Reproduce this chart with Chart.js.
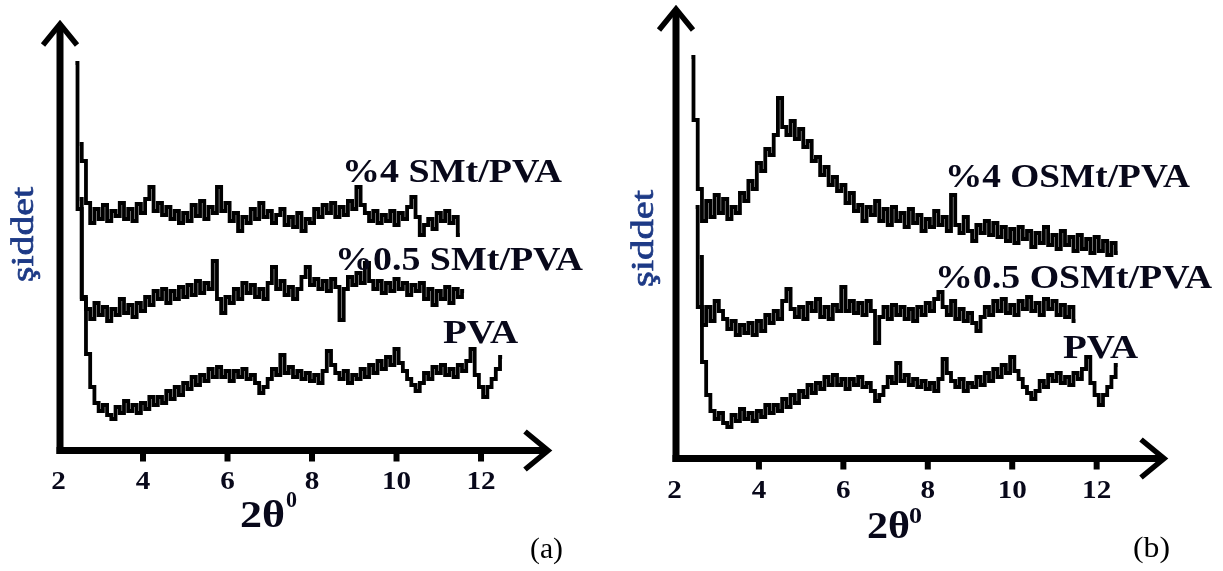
<!DOCTYPE html>
<html>
<head>
<meta charset="utf-8">
<script src="https://cdn.jsdelivr.net/npm/chart.js@4.4.1/dist/chart.umd.min.js"></script>
<style>
  html, body { margin: 0; padding: 0; background: #ffffff; }
  #wrap { position: relative; width: 1223px; height: 571px; overflow: hidden; background: #ffffff; }
  canvas { position: absolute; top: 0; }
  #panelA { left: 0; }
  #panelB { left: 611px; }
</style>
</head>
<body>
<div id="wrap">
  <canvas id="panelA" width="611" height="571"></canvas>
  <canvas id="panelB" width="612" height="571"></canvas>
</div>
<script>
// XRD patterns, intensity in arbitrary units, sampled every 0.1 degree of 2θ
const angleStep = 0.1;

// (a) SMt / PVA films
const smt4Start = 2.5;
const smt4 = [
  305, 288, 246, 226, 240, 230, 244, 228, 238, 233,
  246, 230, 240, 228, 245, 236, 250, 262, 238, 246,
  234, 242, 230, 238, 226, 236, 228, 244, 233, 248,
  230, 242, 236, 262, 238, 246, 228, 236, 218, 232,
  226, 240, 230, 246, 232, 238, 226, 234, 240, 224,
  232, 222, 236, 218, 230, 226, 240, 232, 244, 236,
  246, 232, 242, 234, 248, 240, 262, 244, 236, 228,
  238, 226, 234, 228, 238, 224, 236, 230, 242, 252,
  232, 214, 224, 230, 220, 236, 228, 238, 226, 232,
  214
];

const smt05Start = 2.4;
const smt05 = [
  386, 240, 152, 140, 130, 146, 134, 142, 128, 140,
  134, 150, 136, 144, 132, 146, 138, 152, 144, 158,
  150, 160, 146, 158, 150, 162, 152, 164, 154, 168,
  156, 166, 160, 188, 150, 136, 152, 146, 160, 150,
  166, 156, 164, 152, 160, 150, 166, 182, 160, 168,
  154, 162, 150, 160, 172, 182, 164, 170, 160, 168,
  158, 170, 162, 129, 160, 172, 164, 176, 166, 186,
  168, 160, 168, 156, 166, 158, 170, 160, 166, 154,
  164, 158, 166, 150, 160, 144, 158, 150, 162, 146,
  160, 152, 158
];

// neat PVA film, shown in both panels
const pvaStart = 2.5;
const pva = [
  250, 150, 95, 62, 46, 38, 44, 34, 30, 42,
  36, 48, 38, 44, 36, 46, 40, 52, 44, 52,
  46, 58, 50, 62, 54, 66, 60, 72, 64, 74,
  68, 80, 72, 82, 72, 78, 68, 78, 72, 80,
  70, 74, 66, 56, 62, 70, 80, 74, 94, 76,
  82, 72, 78, 70, 76, 68, 74, 66, 78, 98,
  84, 76, 70, 78, 66, 74, 70, 80, 72, 84,
  76, 88, 80, 92, 84, 100, 86, 78, 70, 64,
  58, 66, 76, 70, 82, 76, 84, 74, 80, 72,
  84, 78, 88, 100, 74, 62, 52, 62, 70, 80,
  92
];

// (b) OSMt / PVA films
const osmt4Start = 2.4;
const osmt4 = [
  400, 337, 268, 236, 256, 240, 262, 244, 258, 238,
  250, 244, 264, 256, 276, 268, 294, 286, 308, 302,
  322, 359, 330, 322, 336, 318, 328, 310, 316, 296,
  300, 282, 290, 272, 280, 266, 272, 254, 264, 246,
  252, 236, 250, 242, 256, 236, 248, 232, 250, 236,
  244, 230, 248, 234, 242, 226, 238, 230, 246, 232,
  240, 226, 262, 232, 224, 240, 226, 216, 232, 224,
  236, 222, 234, 220, 230, 216, 228, 214, 230, 218,
  226, 210, 224, 214, 230, 212, 222, 208, 226, 212,
  220, 206, 222, 208, 218, 204, 220, 206, 216, 202,
  214, 204
];

const osmt05Start = 2.6;
const osmt05 = [
  200, 132, 150, 136, 156, 146, 138, 128, 136, 122,
  132, 124, 134, 122, 136, 126, 142, 134, 146, 138,
  156, 168, 148, 140, 150, 138, 154, 146, 158, 140,
  150, 138, 152, 146, 170, 146, 156, 144, 154, 142,
  156, 146, 114, 140, 150, 138, 152, 142, 150, 138,
  148, 136, 150, 142, 154, 146, 158, 165, 150, 142,
  156, 138, 148, 136, 144, 134, 126, 140, 150, 142,
  156, 146, 158, 144, 152, 142, 156, 148, 160, 146,
  154, 142, 158, 148, 156, 142, 152, 140, 150, 136
];

const tickValues = [2, 4, 6, 8, 10, 12];
const seriesNamesA = ['%4 SMt/PVA', '%0.5 SMt/PVA', 'PVA'];
const seriesNamesB = ['%4 OSMt/PVA', '%0.5 OSMt/PVA', 'PVA'];
const axisTitleY = 'şiddet';
const panelTags = ['(a)', '(b)'];

function toPoints(start, values) {
  return values.map((v, i) => ({ x: Math.round((start + i * angleStep) * 100) / 100, y: v }));
}

const INK = '#08081a';
const NAVY = '#1d3a86';
const SERIF = '"Liberation Serif", "Times New Roman", serif';

function fitText(ctx, str, x, baseline, font, color, targetW, align, sxFixed) {
  ctx.save();
  ctx.font = font;
  ctx.fillStyle = color;
  ctx.textAlign = align || 'left';
  ctx.textBaseline = 'alphabetic';
  const w = ctx.measureText(str).width;
  const sx = targetW ? targetW / w : (sxFixed || 1);
  ctx.translate(x, baseline);
  ctx.scale(sx, 1);
  ctx.fillText(str, 0, 0);
  ctx.restore();
}

function fitTextUp(ctx, str, xBase, yStart, font, color, targetLen) {
  ctx.save();
  ctx.font = font;
  ctx.fillStyle = color;
  ctx.strokeStyle = color;
  ctx.lineWidth = 0.7;
  ctx.textAlign = 'left';
  ctx.textBaseline = 'alphabetic';
  const w = ctx.measureText(str).width;
  ctx.translate(xBase, yStart);
  ctx.rotate(-Math.PI / 2);
  ctx.scale(targetLen / w, 1);
  ctx.fillText(str, 0, 0);
  ctx.strokeText(str, 0, 0);
  ctx.restore();
}

// Axes with arrow heads, tick blocks, tick numbers and all annotations
const decorPlugin = {
  id: 'decor',
  afterDraw(chart, args, opts) {
    const ctx = chart.ctx;
    const area = chart.chartArea;
    const xs = chart.scales.x;
    const o = opts.offset;
    const axX = area.left + 1.5;
    const axY = area.bottom + 1.5;

    ctx.save();
    ctx.strokeStyle = '#000';
    ctx.fillStyle = '#000';
    ctx.lineCap = 'butt';
    ctx.lineJoin = 'miter';

    // vertical axis
    ctx.lineWidth = 7;
    ctx.beginPath();
    ctx.moveTo(axX, axY + 3.5);
    ctx.lineTo(axX, area.top + 6);
    ctx.stroke();
    // horizontal axis
    ctx.beginPath();
    ctx.moveTo(axX - 3.5, axY);
    ctx.lineTo(area.right - 6, axY);
    ctx.stroke();

    // arrow heads
    ctx.lineWidth = 5.5;
    ctx.beginPath();
    ctx.moveTo(axX - 17, area.top + 25);
    ctx.lineTo(axX, area.top + 4);
    ctx.lineTo(axX + 17, area.top + 25);
    ctx.stroke();
    ctx.beginPath();
    ctx.moveTo(area.right - 27, axY - 19);
    ctx.lineTo(area.right - 4, axY);
    ctx.lineTo(area.right - 27, axY + 19);
    ctx.stroke();

    // tick blocks and numbers
    tickValues.forEach(v => {
      const px = xs.getPixelForValue(v);
      if (v !== tickValues[0]) ctx.fillRect(px - 3, axY, 6, 11);
      fitText(ctx, String(v), px, opts.tickBase, 'bold 26px ' + SERIF, INK, null, 'center', 1.12);
    });
    ctx.restore();

    // axis titles
    fitTextUp(ctx, axisTitleY, opts.yTitle[0] - o, opts.yTitle[1], '31px ' + SERIF, NAVY, opts.yTitle[2]);
    fitText(ctx, '2θ', opts.xTitle[0] - o, opts.xTitle[1], 'bold 37px ' + SERIF, INK, opts.xTitle[2]);
    fitText(ctx, '0', opts.xSup[0] - o, opts.xSup[1], 'bold 24px ' + SERIF, INK, opts.xSup[2]);

    // series names
    opts.names.forEach((n, i) => {
      const p = opts.namePos[i];
      fitText(ctx, n, p[0] - o, p[1], 'bold 34px ' + SERIF, INK, p[2]);
    });

    // panel tag
    fitText(ctx, opts.tag, opts.tagPos[0] - o, opts.tagPos[1], '29px ' + SERIF, '#000', opts.tagPos[2]);
  }
};

function lineSet(label, start, values) {
  return {
    label,
    data: toPoints(start, values),
    borderColor: '#000',
    borderWidth: 3.8,
    stepped: 'middle',
    pointRadius: 0,
    fill: false,
    tension: 0
  };
}

function makePanel(canvasId, datasets, pad, xMax, yMax, decor) {
  return new Chart(document.getElementById(canvasId), {
    type: 'line',
    data: { datasets },
    options: {
      responsive: false,
      animation: false,
      devicePixelRatio: 1,
      layout: { padding: pad },
      scales: {
        x: { type: 'linear', min: 2, max: xMax, display: false },
        y: { type: 'linear', min: 0, max: yMax, display: false }
      },
      plugins: {
        legend: { display: false },
        tooltip: { enabled: false },
        decor
      }
    },
    plugins: [decorPlugin]
  });
}

makePanel('panelA', [
  lineSet(seriesNamesA[0], smt4Start, smt4),
  lineSet(seriesNamesA[1], smt05Start, smt05),
  lineSet(seriesNamesA[2], pvaStart, pva)
], { left: 58.5, right: 59, top: 20, bottom: 122 }, 13.68, 429, {
  offset: 0,
  tickBase: 489,
  yTitle: [33, 282, 95],
  xTitle: [240, 527, 45],
  xSup: [286, 507, 11],
  names: seriesNamesA,
  namePos: [[342, 182, 220], [335, 270, 248], [443, 343, 75]],
  tag: panelTags[0],
  tagPos: [530, 558, 33]
});

makePanel('panelB', [
  lineSet(seriesNamesB[0], osmt4Start, osmt4),
  lineSet(seriesNamesB[1], osmt05Start, osmt05),
  lineSet(seriesNamesB[2], pvaStart, pva)
], { left: 63.5, right: 55, top: 5, bottom: 114 }, 13.69, 452, {
  offset: 611,
  tickBase: 498,
  yTitle: [653, 287, 97],
  xTitle: [867, 538, 43],
  xSup: [909, 523, 13],
  names: seriesNamesB,
  namePos: [[945, 187, 245], [935, 288, 277], [1063, 358, 75]],
  tag: panelTags[1],
  tagPos: [1133, 557, 37]
});
</script>
</body>
</html>
